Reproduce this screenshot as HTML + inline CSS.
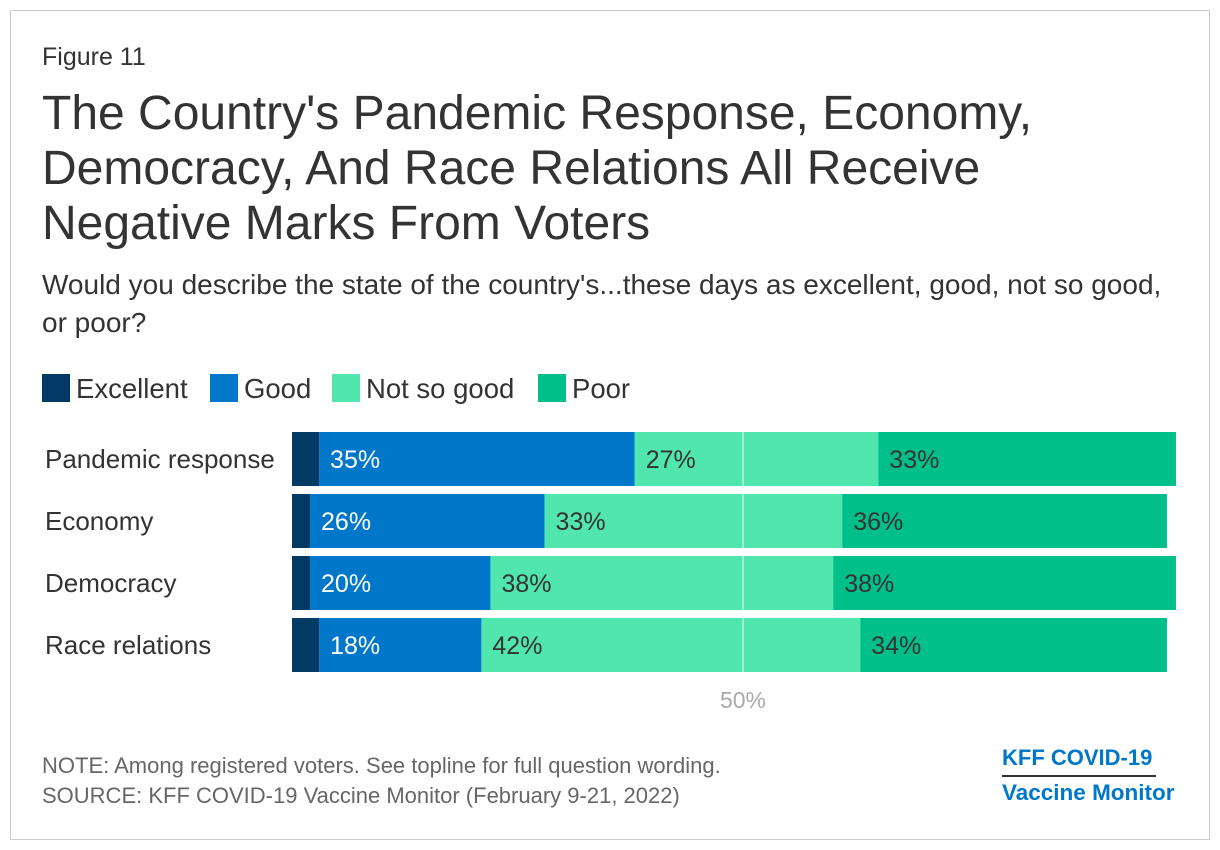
<!DOCTYPE html>
<html><head><meta charset="utf-8">
<style>
body{margin:0;background:#fff;font-family:"Liberation Sans",sans-serif;}
#frame{position:absolute;left:10px;top:10px;width:1198px;height:828px;border:1px solid #ccc;}
.t{position:absolute;color:#333;white-space:nowrap;}
</style></head><body>
<div id="frame"></div>
<div class="t" style="left:42px;top:43px;font-size:25px;">Figure 11</div>
<div class="t" style="left:42px;top:86px;font-size:48px;line-height:55px;color:#333;">The Country's Pandemic Response, Economy,<br>Democracy, And Race Relations All Receive<br>Negative Marks From Voters</div>
<div class="t" style="left:42px;top:266px;font-size:28px;line-height:38px;">Would you describe the state of the country's...these days as excellent, good, not so good,<br>or poor?</div>
<svg id="chart" width="1220" height="850" style="position:absolute;left:0;top:0"></svg>
<div class="t" style="left:42px;top:753px;font-size:22px;color:#666;">NOTE: Among registered voters. See topline for full question wording.</div>
<div class="t" style="left:42px;top:783px;font-size:22px;color:#666;">SOURCE: KFF COVID-19 Vaccine Monitor (February 9-21, 2022)</div>
<div class="t" style="left:1002px;top:745px;font-size:22px;font-weight:bold;color:#0077c8;">KFF COVID-19</div>
<div style="position:absolute;left:1002px;top:775px;width:154px;height:2px;background:#333;"></div>
<div class="t" style="left:1002px;top:780px;font-size:22.5px;font-weight:bold;color:#0077c8;">Vaccine Monitor</div>
<script>
const categories=["Pandemic response","Economy","Democracy","Race relations"];
const seriesNames=["Excellent","Good","Not so good","Poor"];
const excellent=[3,2,2,3];
const good=[35,26,20,18];
const notSoGood=[27,33,38,42];
const poor=[33,36,38,34];
const tickLabels=["50%"];
const tickValues=[50];
const colors=["#023a66","#0077c8","#50e6ad","#00bf89"];
const svg=document.getElementById('chart');
const NS='http://www.w3.org/2000/svg';
const x0=292, pxPer=9.02;
const xs=v=>x0+v*pxPer;
const rowY=i=>432+i*62, barH=54;
function mk(tag,attrs){const e=document.createElementNS(NS,tag);for(const k in attrs)e.setAttribute(k,attrs[k]);svg.appendChild(e);return e;}
const legendX=[42,210,332,538];
seriesNames.forEach((n,i)=>{
  const lx=legendX[i];
  const r=mk('rect',{x:lx,y:374,width:28,height:28,fill:colors[i]});
  
  
  const t=mk('text',{x:lx+34,y:398,'font-size':27.5,fill:'#333','font-family':'Liberation Sans, sans-serif'});
  t.textContent=n;
  
  
});
const series=[excellent,good,notSoGood,poor];
categories.forEach((c,i)=>{
  const y=rowY(i);
  const lab=mk('text',{x:45,y:y+36,'font-size':26,fill:'#333','font-family':'Liberation Sans, sans-serif'});
  lab.textContent=c;
  
  
  let cum=0;
  series.forEach((s,j)=>{
    const v=s[i];
    const r=mk('rect',{x:xs(cum),y:y,width:v*pxPer,height:barH,fill:colors[j]});
    
    
    if(j>0){
      const t=mk('text',{x:xs(cum)+11,y:y+36,'font-size':25,fill:j==1?'#fff':'#333','font-family':'Liberation Sans, sans-serif'});
      t.textContent=v+'%';
      
      
    }
    cum+=v;
  });
});
tickValues.forEach((v,k)=>{
  const l=mk('line',{x1:xs(v),x2:xs(v),y1:432,y2:672,stroke:'#fff','stroke-opacity':0.6,'stroke-width':1.5});
  
  
  const t=mk('text',{x:xs(v),y:708,'font-size':23,fill:'#aaa','text-anchor':'middle','font-family':'Liberation Sans, sans-serif'});
  t.textContent=tickLabels[k];
  
  
});
</script>
</body></html>
